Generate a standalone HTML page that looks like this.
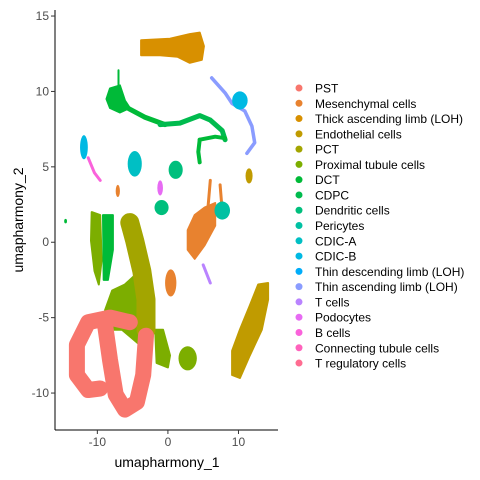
<!DOCTYPE html>
<html><head><meta charset="utf-8"><style>
body{margin:0;background:#fff;}
svg{display:block;font-family:"Liberation Sans",Arial,sans-serif;}
</style></head><body>
<svg id="chart" width="480" height="480" viewBox="0 0 480 480"></svg>
<script>
// ---- data ----
const categories = ["PST","Mesenchymal cells","Thick ascending limb (LOH)","Endothelial cells","PCT","Proximal tubule cells","DCT","CDPC","Dendritic cells","Pericytes","CDIC-A","CDIC-B","Thin descending limb (LOH)","Thin ascending limb (LOH)","T cells","Podocytes","B cells","Connecting tubule cells","T regulatory cells"];
const colors = ["#F8766D","#E8822F","#D89000","#C09B00","#A3A500","#7CAE00","#00BA38","#00BB4E","#00BF7D","#00C1A3","#00BFC4","#00B9E3","#00ADFA","#8A9CFF","#B983FF","#E76BF3","#FA62DB","#FF62BC","#FF6C91"];
const xTicks = [-10,0,10];
const yTicks = [-10,-5,0,5,10,15];
// cluster shapes in UMAP coordinates: [categoryIndex, x/y points]
const polyClusters = [
  [2, [-3.8,0.3,3.1,4.5,5.1,4.8,3.1,1.4,-1.1,-3.8],[13.4,13.5,13.8,13.9,13.0,12.1,11.9,12.3,12.4,12.4]],
  [6, [-8.2,-6.8,-6.1,-5.4,-6.8,-8.2,-8.7],[10.2,10.4,9.4,8.9,8.6,8.9,9.5]],
  [1, [5.2,6.7,6.7,5.2,3.8,2.8,2.8,3.8],[2.3,2.6,1.1,-0.2,-1.1,-0.5,0.8,1.8]],
  [5, [-10.8,-9.6,-9.4,-9.8,-10.4,-10.9],[2.0,1.8,-1.2,-2.8,-1.9,0.1]],
  [6, [-9.2,-7.8,-7.8,-8.5,-9.1],[1.8,1.8,-0.5,-2.5,-2.5]],
  [5, [-7.9,-6.1,-4.0,-2.6,-2.6,-4.0,-6.5,-8.2,-8.9],[-3.2,-2.8,-1.9,-3.2,-6.5,-6.8,-5.8,-5.8,-4.5]],
  [5, [-1.8,-0.7,0.3,0.0,-1.6],[-5.8,-5.8,-7.5,-8.3,-8.0]],
  [3, [12.8,14.2,14.2,13.3,11.6,10.2,9.1,9.1,10.2,11.6],[-2.8,-2.7,-3.8,-5.8,-7.5,-9.0,-8.8,-7.2,-5.8,-4.2]]
];
const lineClusters = [
  [6, 5, [-6.5,-3.3,-0.4],[9.1,8.3,7.8]],
  [7, 5, [-1.1,1.7,4.5,6.0,7.7,8.1],[7.8,7.9,8.4,8.1,7.4,6.8]],
  [6, 4, [4.5,6.7,8.1],[6.8,7.0,6.9]],
  [6, 4, [4.5,4.3,4.5],[6.8,6.0,5.3]],
  [6, 2, [-7.0,-7.0],[11.4,10.2]],
  [13, 3.5, [6.2,8.1,9.1,10.9,11.9,12.3,11.2],[10.9,9.9,9.2,8.7,7.7,6.6,5.9]],
  [16, 3, [-11.3,-10.4,-9.6],[5.6,4.6,4.1]],
  [1, 3, [6.0,5.7],[4.1,2.4]],
  [1, 3, [7.4,7.7],[3.8,2.1]],
  [14, 3, [5.0,6.0],[-1.5,-2.7]],
  [4, 19, [-5.4,-4.7,-3.7,-3.1,-3.1],[1.3,0.1,-1.9,-3.8,-5.8]],
  [0, 16, [-5.4,-8.2,-11.3,-12.9,-12.9,-11.3,-9.6],[-5.3,-5.0,-5.3,-6.8,-8.8,-9.8,-9.7]],
  [0, 16, [-8.9,-8.2,-7.4,-6.1,-4.4,-3.5,-3.1],[-5.5,-7.8,-10.1,-11.1,-10.6,-8.8,-6.2]]
];
const blobClusters = [
  [11, 10.2, 9.4, 1.1, 0.6],
  [11, -11.9, 6.3, 0.55, 0.8],
  [10, -4.7, 5.2, 1.0, 0.85],
  [8, 1.1, 4.8, 1.0, 0.6],
  [3, 11.5, 4.4, 0.5, 0.5],
  [9, 7.7, 2.1, 1.1, 0.6],
  [8, -0.9, 2.3, 1.0, 0.5],
  [15, -1.1, 3.6, 0.4, 0.5],
  [1, -7.1, 3.4, 0.3, 0.4],
  [1, 0.4, -2.7, 0.8, 0.9],
  [5, 2.8, -7.7, 1.3, 0.8],
  [6, -14.5, 1.4, 0.2, 0.15]
];
// ---- axes ----
const L=55,R=278,T=10,B=430;
const xMin=-16.0,xMax=15.6,yMin=-12.45,yMax=15.4;
const x=v=>L+(v-xMin)/(xMax-xMin)*(R-L);
const y=v=>B-(v-yMin)/(yMax-yMin)*(B-T);
const NS="http://www.w3.org/2000/svg";
const svg=document.getElementById('chart');
function mk(tag,attrs,parent){const e=document.createElementNS(NS,tag);for(const k in attrs)e.setAttribute(k,attrs[k]);(parent||svg).appendChild(e);return e;}
const plot=mk('g',{});


polyClusters.forEach(c=>{
  const d=c[1].map((v,i)=>(i?'L':'M')+x(v).toFixed(1)+','+y(c[2][i]).toFixed(1)).join(' ')+'Z';
  const p=mk('path',{d:d,fill:colors[c[0]],stroke:colors[c[0]],'stroke-width':2,'stroke-linejoin':'round'},plot);
  
  
});
lineClusters.forEach(c=>{
  const d=c[2].map((v,i)=>(i?'L':'M')+x(v).toFixed(1)+','+y(c[3][i]).toFixed(1)).join(' ');
  const p=mk('path',{d:d,fill:'none',stroke:colors[c[0]],'stroke-width':c[1],'stroke-linecap':'round','stroke-linejoin':'round'},plot);
  
  
});
blobClusters.forEach(c=>{
  const sx=(R-L)/(xMax-xMin),sy=(B-T)/(yMax-yMin);
  const e=mk('ellipse',{cx:x(c[1]),cy:y(c[2]),rx:c[3]*sx,ry:c[4]*sy,fill:colors[c[0]]},plot);
  
  
});
// axis lines
const ax=mk('line',{x1:L,y1:B,x2:R,y2:B,stroke:'#000','stroke-width':1});


const ay=mk('line',{x1:L,y1:T,x2:L,y2:B,stroke:'#000','stroke-width':1});


xTicks.forEach(t=>{
  const l=mk('line',{x1:x(t),y1:B,x2:x(t),y2:B+4,stroke:'#333'});
  
  
  const tx=mk('text',{x:x(t),y:B+16,'text-anchor':'middle','font-size':12,fill:'#4d4d4d'});
  tx.textContent=t;
  
  
});
yTicks.forEach(t=>{
  const l=mk('line',{x1:L-4,y1:y(t),x2:L,y2:y(t),stroke:'#333'});
  
  
  const tx=mk('text',{x:L-6,y:y(t)+4,'text-anchor':'end','font-size':12,fill:'#4d4d4d'});
  tx.textContent=t;
  
  
});
// legend
categories.forEach((c,i)=>{
  const cy=88+i*15.28;
  const dot=mk('circle',{cx:299,cy:cy,r:3.5,fill:colors[i]});
  
  
  const tx=mk('text',{x:315,y:cy+4.5,'font-size':12,fill:'#000'});
  tx.textContent=c;
  
  
});
</script>
<svg style="position:absolute;left:0;top:0" width="480" height="480">
<text x="167" y="467" text-anchor="middle" font-size="14" font-family="Liberation Sans, sans-serif">umapharmony_1</text>
<text transform="translate(23,220) rotate(-90)" text-anchor="middle" font-size="14" font-family="Liberation Sans, sans-serif">umapharmony_2</text>
</svg>
</body></html>
